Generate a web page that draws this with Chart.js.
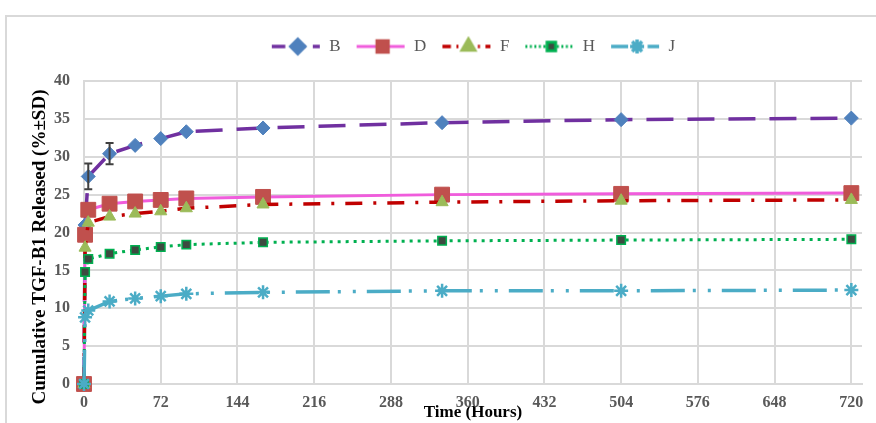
<!DOCTYPE html>
<html>
<head>
<meta charset="utf-8">
<script src="https://cdn.jsdelivr.net/npm/chart.js@4.4.1/dist/chart.umd.min.js"></script>
<style>
  html, body { margin: 0; padding: 0; background: #fff; }
  #frame { position: absolute; left: 5px; top: 15px; width: 900px; height: 450px; border: 2px solid #d9d9d9; }
  #wrap { position: absolute; left: 0; top: 0; width: 876px; height: 423px; }
</style>
</head>
<body>
<div id="frame"></div>
<div id="wrap"><canvas id="releaseChart" width="876" height="423"></canvas></div>
<script>
// time points (hours) and cumulative release (%) per formulation
const hours = [0, 1, 4, 24, 48, 72, 96, 168, 336, 504, 720];
const xTicks = [0, 72, 144, 216, 288, 360, 432, 504, 576, 648, 720];

const valuesB = [0, 21.0, 27.4, 30.4, 31.5, 32.4, 33.3, 33.8, 34.5, 34.9, 35.1];
const valuesD = [0, 19.7, 23.0, 23.8, 24.1, 24.3, 24.5, 24.7, 25.0, 25.1, 25.2];
const valuesF = [0, 18.0, 21.3, 22.1, 22.5, 22.8, 23.2, 23.7, 24.0, 24.2, 24.3];
const valuesH = [0, 14.8, 16.5, 17.2, 17.7, 18.1, 18.4, 18.7, 18.9, 19.0, 19.1];
const valuesJ = [0, 8.8, 9.7, 10.9, 11.3, 11.6, 11.9, 12.1, 12.3, 12.3, 12.4];

// standard deviations (only the visible ones)
const errorsB = [0, 0, 1.7, 1.4, 0, 0, 0, 0, 0, 0, 0];

const yTitle = 'Cumulative TGF-B1 Released (%\u00B1SD)';
const xTitle = 'Time (Hours)';

const serif = '"Liberation Serif", "Times New Roman", serif';

const toPoints = (vals) => vals.map((v, i) => ({ x: hours[i], y: v }));

const series = [
  { label: 'B', data: valuesB, errors: errorsB, line: '#7030A0', dash: [27, 14], width: 3.5,
    marker: 'rectRot', radius: 7, fill: '#4F81BD', edge: '#4F81BD', edgeWidth: 1 },
  { label: 'D', data: valuesD, line: '#F05CDC', dash: [], width: 3,
    marker: 'rect', radius: 10.5, fill: '#C0504D', edge: '#C0504D', edgeWidth: 1 },
  { label: 'F', data: valuesF, line: '#C00000', dash: [17, 11, 3, 11], width: 3.5,
    marker: 'triangle', radius: 7, fill: '#9BBB59', edge: '#9BBB59', edgeWidth: 1 },
  { label: 'H', data: valuesH, line: '#00B050', dash: [3, 5], width: 3,
    marker: 'rect', radius: 6, fill: '#3d4a40', edge: '#00B050', edgeWidth: 1.5 },
  { label: 'J', data: valuesJ, line: '#4BACC6', dash: [34, 8, 3, 12, 3, 11], width: 3.5,
    marker: 'star', radius: 7, fill: '#4BACC6', edge: '#4BACC6', edgeWidth: 2.5 }
];

// little line+marker pictures for the legend
function legendIcon(s) {
  const c = document.createElement('canvas');
  c.width = 50; c.height = 22;
  const g = c.getContext('2d');
  g.strokeStyle = s.line;
  g.lineWidth = s.width;
  g.setLineDash(s.dash.map(d => Math.max(2, d * 0.5)));
  g.beginPath(); g.moveTo(1, 11); g.lineTo(49, 11); g.stroke();
  g.setLineDash([]);
  g.fillStyle = s.fill;
  g.strokeStyle = s.edge;
  Chart.helpers.drawPoint(g, { pointStyle: s.marker, radius: Math.min(s.radius, 8), rotation: 0, borderWidth: s.edgeWidth }, 27, 11);
  return c;
}

const errorBars = {
  id: 'errorBars',
  afterDatasetsDraw(chart) {
    const ctx = chart.ctx;
    const xs = chart.scales.x, ys = chart.scales.y;
    ctx.save();
    ctx.strokeStyle = '#404040';
    ctx.lineWidth = 2;
    series.forEach((s) => {
      if (!s.errors) return;
      s.errors.forEach((e, i) => {
        if (!e) return;
        const px = xs.getPixelForValue(hours[i]);
        const top = ys.getPixelForValue(s.data[i] + e);
        const bot = ys.getPixelForValue(s.data[i] - e);
        ctx.beginPath();
        ctx.moveTo(px, top); ctx.lineTo(px, bot);
        ctx.moveTo(px - 4, top); ctx.lineTo(px + 4, top);
        ctx.moveTo(px - 4, bot); ctx.lineTo(px + 4, bot);
        ctx.stroke();
      });
    });
    ctx.restore();
  }
};

const yTitlePlugin = {
  id: 'yTitle',
  afterDraw(chart) {
    const ctx = chart.ctx;
    ctx.save();
    ctx.translate(40, 247);
    ctx.rotate(-Math.PI / 2);
    ctx.font = 'bold 19px ' + serif;
    ctx.fillStyle = '#000';
    ctx.textAlign = 'center';
    ctx.textBaseline = 'middle';
    ctx.fillText(yTitle, 0, 0);
    ctx.restore();
  }
};

// extra room under the legend, and centre it over the plot area
const legendPlace = {
  id: 'legendPlace',
  beforeInit(chart) {
    const fit = chart.legend.fit;
    chart.legend.fit = function () {
      fit.call(this);
      this.height += 16;
    };
  },
  afterLayout(chart) {
    chart.legend.left = chart.chartArea.left;
    chart.legend.right = chart.chartArea.right;
  }
};

const icons = series.map(legendIcon);

new Chart(document.getElementById('releaseChart'), {
  type: 'line',
  data: {
    datasets: series.map((s, i) => ({
      label: s.label,
      data: toPoints(s.data),
      borderColor: s.line,
      borderWidth: s.width,
      borderDash: s.dash,
      pointStyle: s.marker,
      pointRadius: s.radius,
      pointBackgroundColor: s.fill,
      pointBorderColor: s.edge,
      pointBorderWidth: s.edgeWidth,
      tension: 0,
      fill: false,
      clip: false,
      order: series.length - i
    }))
  },
  options: {
    responsive: false,
    devicePixelRatio: 1,
    animation: false,
    layout: { padding: { top: 23, right: 14, left: 0, bottom: 0 } },
    plugins: {
      tooltip: { enabled: false },
      legend: {
        position: 'top',
        labels: {
          usePointStyle: true,
          pointStyleWidth: 50,
          padding: 15,
          color: '#595959',
          font: { family: serif, size: 17 },
          generateLabels: (chart) => chart.data.datasets.map((ds, i) => ({
            text: ds.label,
            pointStyle: icons[i],
            fontColor: '#595959',
            fillStyle: 'transparent',
            strokeStyle: 'transparent',
            lineWidth: 0,
            hidden: false,
            datasetIndex: i
          }))
        }
      }
    },
    scales: {
      x: {
        type: 'linear',
        min: 0,
        max: 730,
        afterBuildTicks: (scale) => { scale.ticks = xTicks.map(v => ({ value: v })); },
        afterFit: (scale) => { scale.height = 39; },
        ticks: { padding: 9, color: '#595959', font: { family: serif, size: 16, weight: 'bold' }, maxRotation: 0 },
        grid: { color: '#d9d9d9', lineWidth: 2, drawTicks: false },
        border: { color: '#d9d9d9', width: 2 },
        title: { display: true, text: xTitle, color: '#000', padding: 0, font: { family: serif, size: 17, weight: 'bold' } }
      },
      y: {
        min: 0,
        max: 40,
        afterFit: (scale) => { scale.width = 84; },
        ticks: { stepSize: 5, padding: 14, color: '#595959', font: { family: serif, size: 16, weight: 'bold' } },
        grid: { color: '#d9d9d9', lineWidth: 2, drawTicks: false },
        border: { color: '#d9d9d9', width: 2 }
      }
    }
  },
  plugins: [legendPlace, errorBars, yTitlePlugin]
});
</script>
</body>
</html>
